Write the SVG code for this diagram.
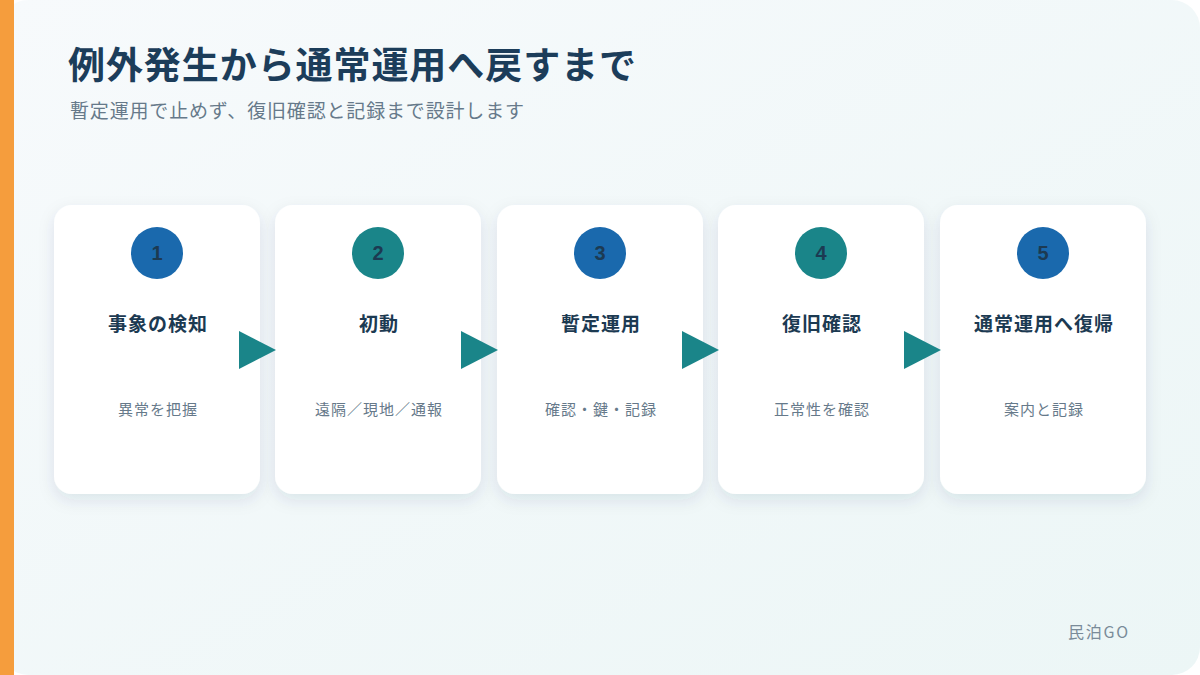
<svg xmlns="http://www.w3.org/2000/svg" width="1200" height="675" viewBox="0 0 1200 675">
<defs>
<linearGradient id="bg" x1="0" y1="0" x2="1" y2="1">
<stop offset="0" stop-color="#f7fafc"/>
<stop offset="1" stop-color="#ecf6f6"/>
</linearGradient>
<filter id="sh" x="-20%" y="-20%" width="140%" height="140%">
<feDropShadow dx="0" dy="6" stdDeviation="8" flood-color="#1c3d5a" flood-opacity="0.10"/>
</filter>
<style>
.card{fill:#ffffff;filter:url(#sh)}
.num{font-family:"Liberation Sans",Arial,sans-serif;font-size:20px;font-weight:bold;fill:#1c3a52;text-anchor:middle}
.ttl{font-family:"Noto Sans CJK JP","Noto Sans",sans-serif;font-size:19px;letter-spacing:1px;font-weight:bold;fill:#1c3a52;text-anchor:middle}
.sub{font-family:"Noto Sans CJK JP","Noto Sans",sans-serif;font-size:15px;letter-spacing:1px;fill:#66798a;text-anchor:middle}
.blue{fill:#1a69ad}
.teal{fill:#1a8589}
.arr{fill:#1a8589}
</style>
</defs>
<rect x="0" y="0" width="1200" height="675" fill="#ffffff"/>
<rect x="0" y="0" width="1200" height="675" rx="28" fill="url(#bg)"/>
<rect x="0" y="0" width="14" height="675" fill="#f59d3d"/>
<text x="68" y="79" font-family="'Noto Sans CJK JP','Noto Sans',sans-serif" font-size="37" font-weight="bold" fill="#1c3d5a" textLength="568" lengthAdjust="spacing">例外発生から通常運用へ戻すまで</text>
<text x="70" y="118" font-family="'Noto Sans CJK JP','Noto Sans',sans-serif" font-size="19" fill="#66798a" textLength="454" lengthAdjust="spacing">暫定運用で止めず、復旧確認と記録まで設計します</text>

<g id="node1">
<rect class="card" x="54" y="205" width="206" height="289" rx="18"/>
<circle class="blue" cx="157" cy="253" r="26"/>
<text class="num" x="157" y="260">1</text>
<text class="ttl" x="158" y="331">事象の検知</text>
<text class="sub" x="158" y="415">異常を把握</text>
</g>
<g id="node2">
<rect class="card" x="275" y="205" width="206" height="289" rx="18"/>
<circle class="teal" cx="378" cy="253" r="26"/>
<text class="num" x="378" y="260">2</text>
<text class="ttl" x="379" y="331">初動</text>
<text class="sub" x="379" y="415">遠隔／現地／通報</text>
</g>
<g id="node3">
<rect class="card" x="497" y="205" width="206" height="289" rx="18"/>
<circle class="blue" cx="600" cy="253" r="26"/>
<text class="num" x="600" y="260">3</text>
<text class="ttl" x="601" y="331">暫定運用</text>
<text class="sub" x="601" y="415">確認・鍵・記録</text>
</g>
<g id="node4">
<rect class="card" x="718" y="205" width="206" height="289" rx="18"/>
<circle class="teal" cx="821" cy="253" r="26"/>
<text class="num" x="821" y="260">4</text>
<text class="ttl" x="822" y="331">復旧確認</text>
<text class="sub" x="822" y="415">正常性を確認</text>
</g>
<g id="node5">
<rect class="card" x="940" y="205" width="206" height="289" rx="18"/>
<circle class="blue" cx="1043" cy="253" r="26"/>
<text class="num" x="1043" y="260">5</text>
<text class="ttl" x="1044" y="331">通常運用へ復帰</text>
<text class="sub" x="1044" y="415">案内と記録</text>
</g>
<g id="connectors">
<polygon class="arr" points="239,331 276,350 239,369"/>
<polygon class="arr" points="461,331 498,350 461,369"/>
<polygon class="arr" points="682,331 719,350 682,369"/>
<polygon class="arr" points="904,331 941,350 904,369"/>
</g>
<text x="1068" y="638" font-family="'Noto Sans CJK JP','Noto Sans',sans-serif" font-size="16" fill="#7a8b99" textLength="60" lengthAdjust="spacing">民泊GO</text>
</svg>
